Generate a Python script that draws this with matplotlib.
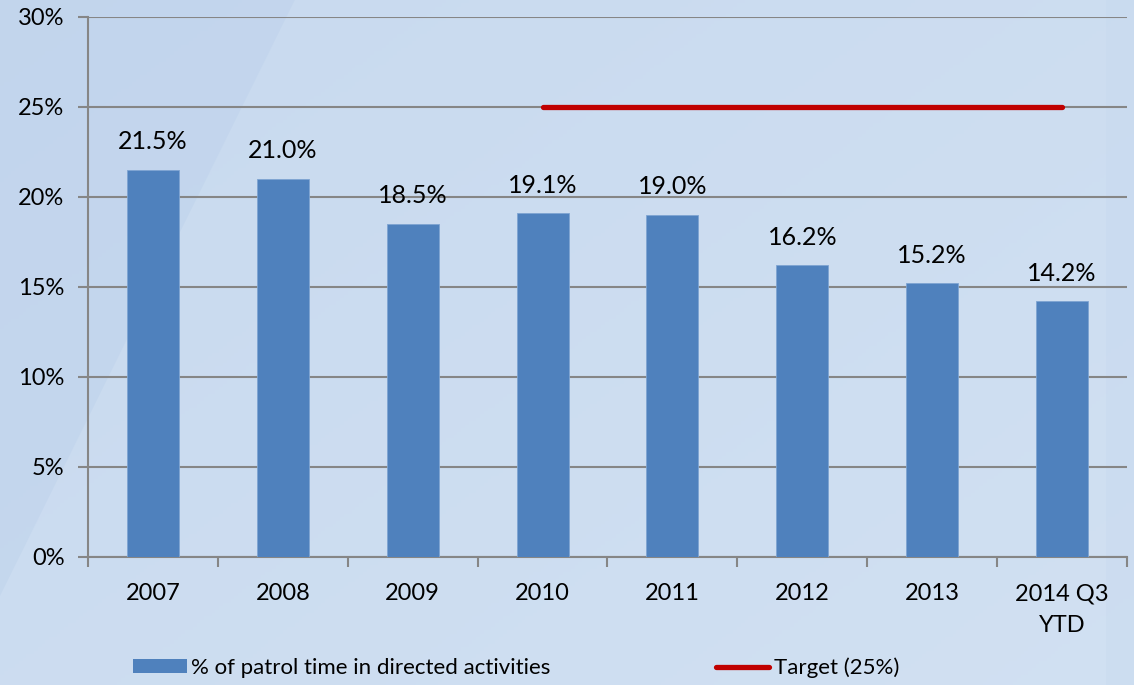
import numpy as np
import matplotlib
matplotlib.use("Agg")
import matplotlib.pyplot as plt
from matplotlib.patches import Polygon, Patch
from matplotlib.lines import Line2D

categories = ["2007", "2008", "2009", "2010", "2011", "2012", "2013", "2014 Q3\nYTD"]
patrol_pct = [21.5, 21.0, 18.5, 19.1, 19.0, 16.2, 15.2, 14.2]
target_pct = [np.nan, np.nan, np.nan, 25, 25, 25, 25, 25]
y_ticks = [0, 5, 10, 15, 20, 25, 30]

plt.rcParams['font.family'] = ['Lato', 'DejaVu Sans']

fig = plt.figure(figsize=(11.34, 6.85), dpi=100)

# background: soft blue gradient with a slightly darker wedge on the left
bg = fig.add_axes([0, 0, 1, 1], zorder=-10)
gx, gy = np.meshgrid(np.linspace(0, 1, 300), np.linspace(0, 1, 200))
light = np.array([0.82, 0.88, 0.95])
dark = np.array([0.74, 0.82, 0.92])
t = np.clip(0.55 * (1 - gx) + 0.45 * (1 - gy), 0, 1)[..., None]
img = light * (1 - t * 0.45) + dark * (t * 0.45)
bg.imshow(img, extent=[0, 1, 0, 1], aspect='auto', origin='upper')
bg.add_patch(Polygon([[0, 1], [0.26, 1], [0.0, 0.13]], closed=True,
                     facecolor='#bcd1eb', edgecolor='none', alpha=0.45))
bg.add_patch(Polygon([[0.975, 0], [1, 0], [1, 1], [0.975, 1]], closed=True,
                     facecolor='#c5d8ef', edgecolor='none', alpha=0.35))
bg.set_xlim(0, 1)
bg.set_ylim(0, 1)
bg.axis('off')

ax = fig.add_axes([0.0776, 0.1869, 0.9162, 0.7883])
ax.patch.set_alpha(0)

x = np.arange(len(categories))
ax.bar(x, patrol_pct, width=0.4, color='#4f81bd', edgecolor='#7ea4d2',
       linewidth=0.6, zorder=3)
ax.plot(x, target_pct, color='#c00000', linewidth=3.8, solid_capstyle='round', zorder=4)

for xi, v in zip(x, patrol_pct):
    ax.annotate(f"{v:.1f}%", (xi, v), xytext=(0, 12), textcoords='offset points',
                ha='center', va='bottom', fontsize=18, color='black')

ax.set_xlim(-0.5, len(categories) - 0.5)
ax.set_ylim(0, 30)
ax.set_yticks(y_ticks)
ax.set_yticklabels([f"{v}%" for v in y_ticks], fontsize=17)
ax.yaxis.grid(True, color='#868686', linewidth=1.5, zorder=0)
ax.set_axisbelow(True)

ax.set_xticks(x)
ax.set_xticklabels(categories, fontsize=17, linespacing=1.6)
ax.set_xticks(np.arange(len(categories) + 1) - 0.5, minor=True)
ax.tick_params(axis='x', which='major', length=0, pad=19)
ax.tick_params(axis='x', which='minor', length=7, width=1.5, color='#868686', direction='out')
ax.tick_params(axis='y', length=7, width=1.5, color='#868686', pad=10)

for s in ['top', 'right']:
    ax.spines[s].set_visible(False)
ax.spines['left'].set_color('#868686')
ax.spines['left'].set_linewidth(1.5)
ax.spines['bottom'].set_color('#868686')
ax.spines['bottom'].set_linewidth(1.5)

handles = [Patch(facecolor='#4f81bd', edgecolor='none', label='% of patrol time in directed activities'),
           Line2D([0], [0], color='#c00000', linewidth=3.8, solid_capstyle='round', label='Target (25%)')]
fig.legend(handles=handles, loc='center left', bbox_to_anchor=(0.1, 0.025), ncol=2,
           frameon=False, fontsize=16, handlelength=2.4, handleheight=0.6,
           handletextpad=0.2, columnspacing=7.45)

fig.savefig("out.png", dpi=100)
